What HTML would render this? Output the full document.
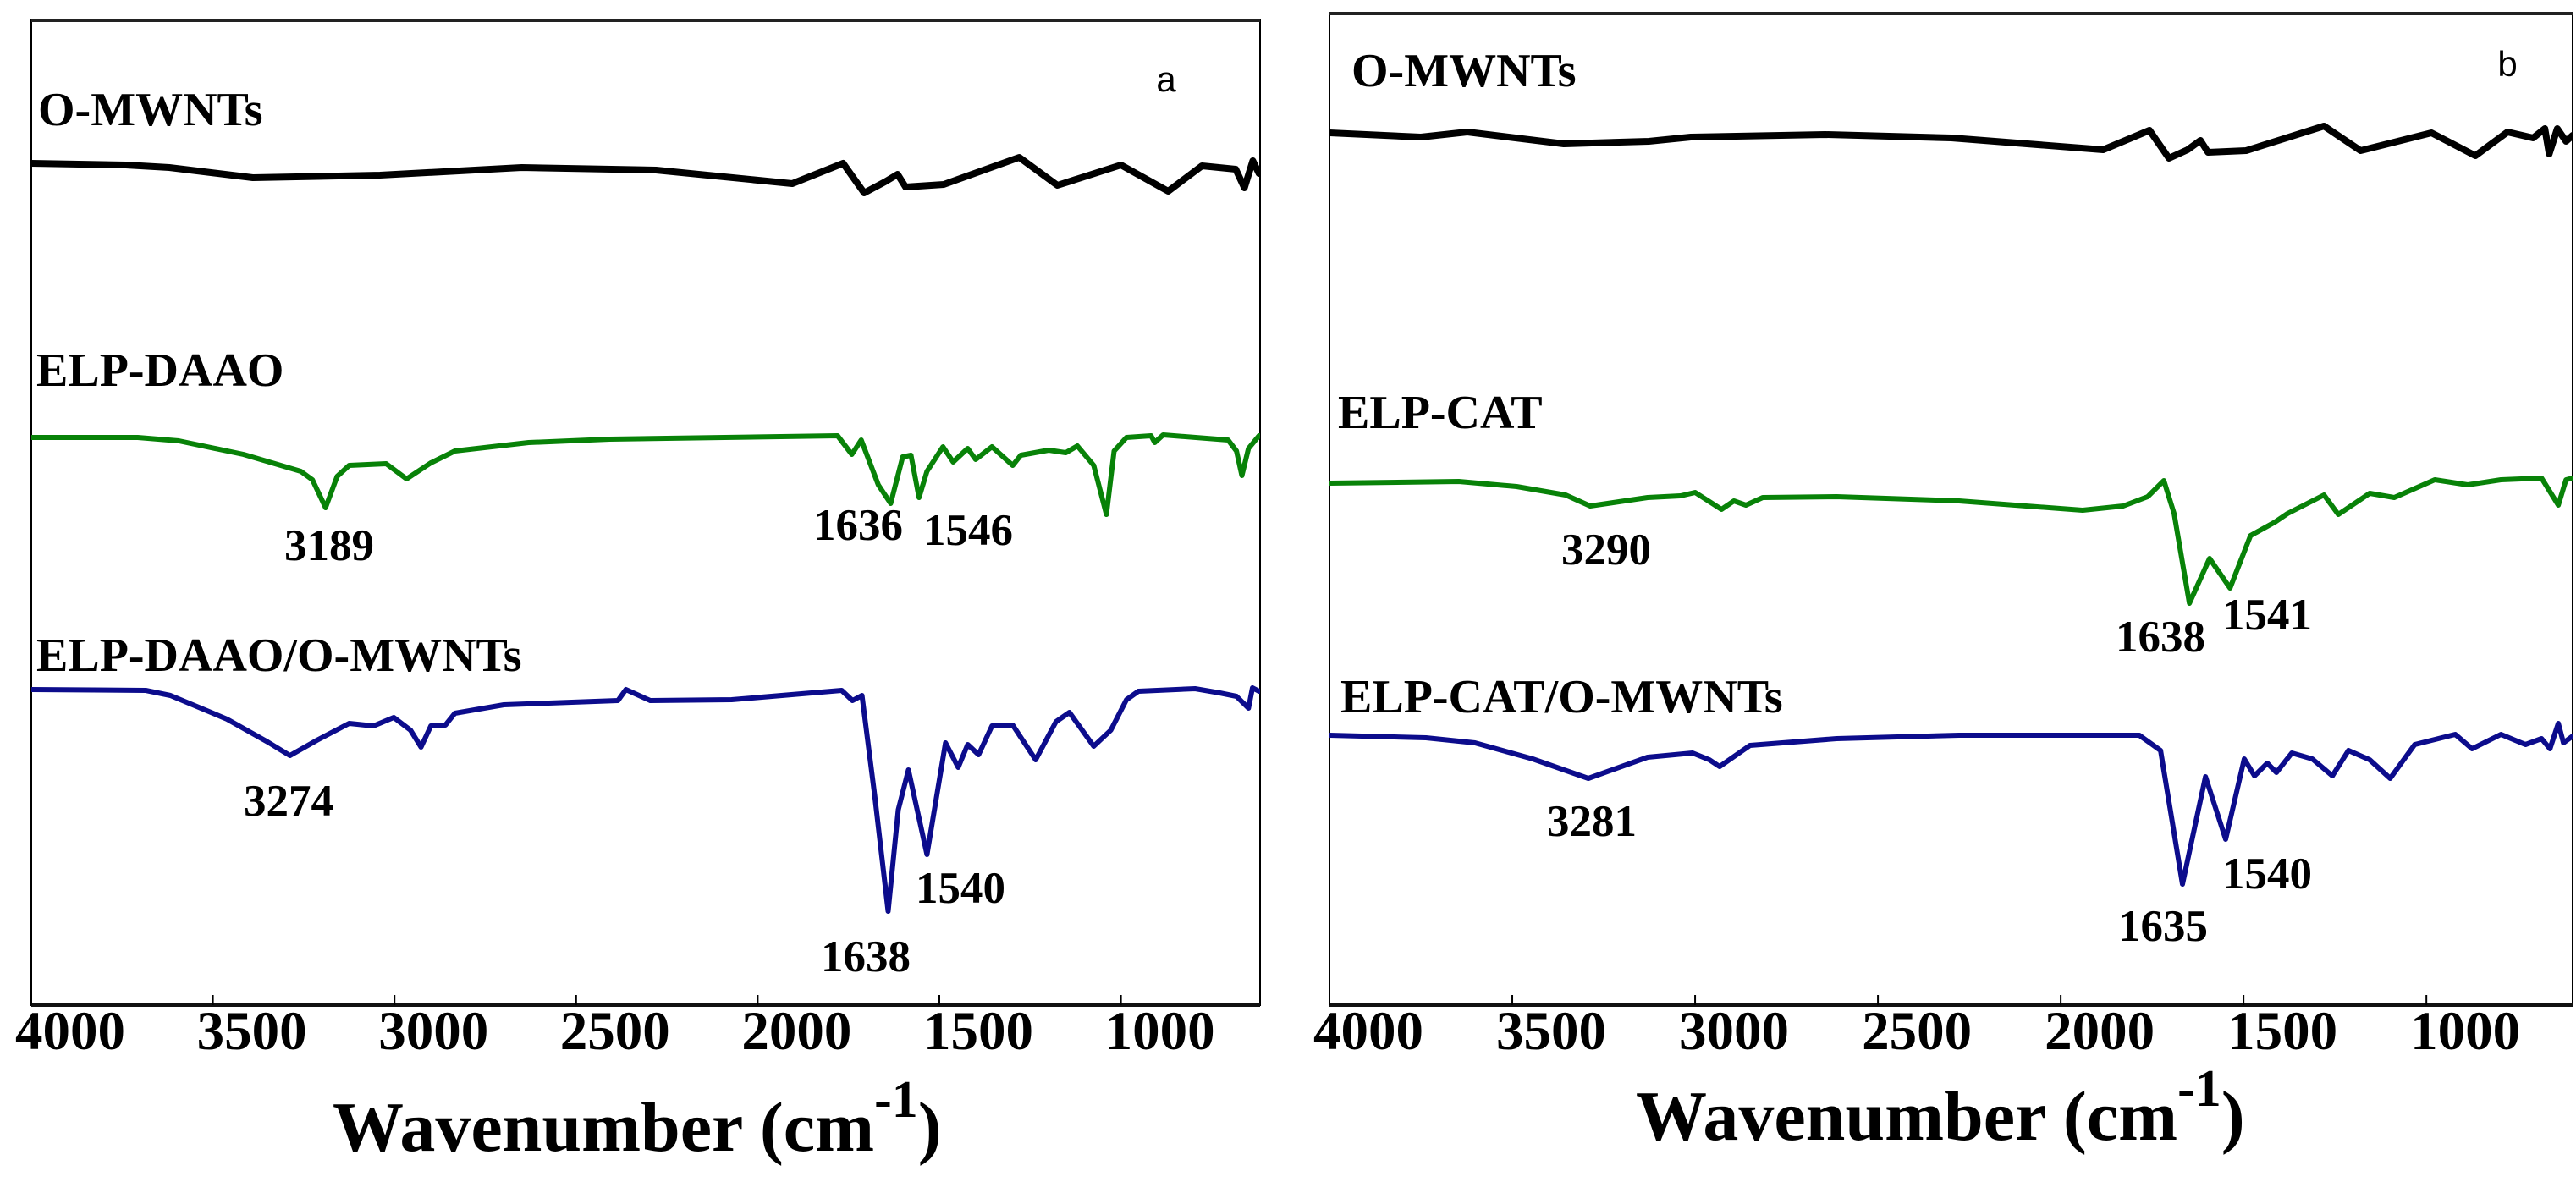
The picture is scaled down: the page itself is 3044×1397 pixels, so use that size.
<!DOCTYPE html>
<html><head><meta charset="utf-8"><style>
html,body{margin:0;padding:0;background:#fff;}
svg{display:block;}
text{font-family:"Liberation Serif",serif;font-weight:bold;fill:#000;}
</style></head><body>
<svg id="chart" width="3044" height="1397" viewBox="0 0 3044 1397" xmlns="http://www.w3.org/2000/svg">
<rect x="0" y="0" width="3044" height="1397" fill="#fff"/>
</svg>
<script>
// ---- data (wavenumber cm-1, intensity a.u.) ----
const ticks = [4000, 3500, 3000, 2500, 2000, 1500, 1000];
const tickLabels = ["4000", "3500", "3000", "2500", "2000", "1500", "1000"];

const aBlackWn = [4000,3740,3620,3390,3040,2650,2280,1905,1765,1707,1650,1615,1593,1488,1280,1175,1000,870,777,684,660,637,620];
const aBlackV  = [995,993,990,978,981,990,987,971,995,960,973,982,967,970,1002,969,993,962,992,988,966,998,983];

const aGreenWn = [4000,3707,3594,3416,3258,3226,3190,3158,3125,3023,2967,2900,2834,2631,2408,1780,1741,1715,1668,1634,1601,1578,1556,1534,1490,1462,1422,1400,1355,1298,1276,1199,1152,1120,1075,1040,1019,985,917,907,884,705,682,667,649,620];
const aGreenV  = [671,671,667,651,631,621,588,625,638,640,622,641,655,665,669,673,651,668,615,593,648,650,600,631,660,642,658,645,660,638,650,656,653,661,638,580,655,671,673,665,674,668,655,626,658,673];

const aBlueWn = [4000,3685,3617,3461,3349,3288,3214,3125,3058,3002,2956,2927,2900,2860,2834,2699,2385,2363,2296,2072,1769,1739,1713,1678,1641,1613,1585,1534,1483,1448,1422,1392,1355,1298,1235,1179,1142,1075,1028,985,952,796,728,682,649,638,620];
const aBlueV  = [373,372,366,338,311,295,313,333,330,340,325,305,330,331,345,355,360,373,360,361,372,360,366,248,111,231,278,178,310,281,308,296,330,331,290,335,346,306,325,361,371,374,369,365,351,375,371];

const bBlackWn = [4000,3750,3623,3359,3127,3012,2644,2299,1884,1757,1704,1653,1618,1597,1493,1280,1180,986,866,778,708,676,664,642,618,600];
const bBlackV  = [1031,1026,1032,1018,1021,1026,1029,1025,1011,1034,1001,1011,1022,1008,1010,1039,1010,1031,1004,1032,1025,1036,1006,1036,1021,1028];

const bGreenWn = [4000,3646,3488,3354,3287,3130,3040,3000,2928,2894,2861,2815,2613,2278,1940,1829,1762,1718,1690,1648,1593,1537,1481,1414,1380,1280,1241,1155,1088,977,887,796,685,639,618,600];
const bGreenV  = [617,619,613,603,590,600,602,606,586,596,591,600,601,596,585,590,601,620,581,475,528,493,555,571,581,603,580,605,600,621,615,621,623,591,621,623];

const bBlueWn = [4000,3736,3602,3444,3292,3130,3007,2961,2933,2850,2613,2278,1785,1727,1667,1604,1549,1498,1470,1435,1410,1368,1312,1257,1213,1155,1099,1032,921,875,796,729,685,662,639,625,600];
const bBlueV  = [319,316,310,291,268,293,298,290,282,307,315,319,319,301,143,270,196,291,271,286,275,298,291,271,301,290,268,308,320,303,320,308,315,303,333,310,318];

const NS = "http://www.w3.org/2000/svg";
const svg = document.getElementById('chart');
function mk(tag, attrs, parent){ const e=document.createElementNS(NS,tag); for(const k in attrs) e.setAttribute(k,attrs[k]); (parent||svg).appendChild(e); return e; }

function panel(p){
  const g = mk('g', {});
  
  
  const xS = w => p.left + (p.wmax - w) / (p.wmax - p.wmin) * (p.right - p.left);
  const yS = v => p.bottom - v;
  const cid = 'clip-' + p.id;
  const cp = mk('clipPath', {id: cid}, g);
  mk('rect', {x:p.left, y:p.top, width:p.right-p.left, height:p.bottom-p.top}, cp);
  const fr = mk('rect', {x:p.left, y:p.top, width:p.right-p.left, height:p.bottom-p.top, fill:'none', stroke:'#000', 'stroke-width':2}, g);
  
  
  const tl = mk('line', {x1:p.left, x2:p.right, y1:p.top, y2:p.top, stroke:'#222', 'stroke-width':4}, g);
  
  
  const ax = mk('line', {x1:p.left, x2:p.right, y1:p.bottom, y2:p.bottom, stroke:'#111', 'stroke-width':4}, g);
  
  
  ticks.forEach((t,i)=>{
    const x = xS(t);
    const tk = mk('line', {x1:x, x2:x, y1:p.bottom, y2:p.bottom-12, stroke:'#000', 'stroke-width':2}, g);
    
    
    const lb = mk('text', {x:x+46, y:1240, 'font-size':65, 'text-anchor':'middle'}, g);
    lb.textContent = tickLabels[i];
    
    
  });
  p.series.forEach(s=>{
    let d='';
    s.wn.forEach((w,i)=>{ d += (i?'L':'M') + xS(w).toFixed(1) + ',' + yS(s.v[i]).toFixed(1); });
    const path = mk('path', {d:d, fill:'none', stroke:s.color, 'stroke-width':s.w, 'stroke-linejoin':'round', 'stroke-linecap':'round', 'clip-path':'url(#'+cid+')'}, g);
    
    
  });
  p.labels.forEach(l=>{
    const t = mk('text', {x:l.x, y:l.y, 'font-size':l.fs, 'text-anchor':l.anchor||'start'}, g);
    if(l.sans){ t.setAttribute('style','font-family:"Liberation Sans",sans-serif;font-weight:normal'); }
    t.textContent = l.t;
    
    
  });
  const title = mk('text', {x:p.titleX, y:p.titleY, 'font-size':84}, g);
  
  
  title.appendChild(document.createTextNode('Wavenumber (cm'));
  const sup = mk('tspan', {dy:-40, 'font-size':62}, title);
  sup.textContent = '-1';
  const cl = mk('tspan', {dy:40}, title);
  cl.textContent = ')';
}

panel({id:'panel-a', left:37, right:1489, top:24, bottom:1188, wmax:4000, wmin:617, titleX:393, titleY:1360,
  series:[
    {name:'o-mwnts-spectrum-a', wn:aBlackWn, v:aBlackV, color:'#000', w:8},
    {name:'elp-daao-spectrum', wn:aGreenWn, v:aGreenV, color:'#088208', w:6},
    {name:'elp-daao-o-mwnts-spectrum', wn:aBlueWn, v:aBlueV, color:'#0c0c8c', w:6}],
  labels:[
    {t:'O-MWNTs', x:45, y:148, fs:56, name:'o-mwnts-label-a'},
    {t:'a', x:1378, y:108, fs:42, anchor:'middle', sans:true, name:'panel-a-letter'},
    {t:'ELP-DAAO', x:43, y:456, fs:56, name:'elp-daao-label'},
    {t:'ELP-DAAO/O-MWNTs', x:43, y:793, fs:56, name:'elp-daao-o-mwnts-label'},
    {t:'3189', x:389, y:662, fs:53, anchor:'middle', name:'peak-3189-label'},
    {t:'1636', x:1014, y:638, fs:53, anchor:'middle', name:'peak-1636-label'},
    {t:'1546', x:1144, y:644, fs:53, anchor:'middle', name:'peak-1546-label'},
    {t:'3274', x:341, y:964, fs:53, anchor:'middle', name:'peak-3274-label'},
    {t:'1540', x:1135, y:1067, fs:53, anchor:'middle', name:'peak-1540-label-a'},
    {t:'1638', x:1023, y:1148, fs:53, anchor:'middle', name:'peak-1638-label-a'}]
});

panel({id:'panel-b', left:1571, right:3040, top:16, bottom:1188, wmax:4000, wmin:600, titleX:1933, titleY:1347,
  series:[
    {name:'o-mwnts-spectrum-b', wn:bBlackWn, v:bBlackV, color:'#000', w:8},
    {name:'elp-cat-spectrum', wn:bGreenWn, v:bGreenV, color:'#088208', w:6},
    {name:'elp-cat-o-mwnts-spectrum', wn:bBlueWn, v:bBlueV, color:'#0c0c8c', w:6}],
  labels:[
    {t:'O-MWNTs', x:1597, y:102, fs:56, name:'o-mwnts-label-b'},
    {t:'b', x:2963, y:90, fs:42, anchor:'middle', sans:true, name:'panel-b-letter'},
    {t:'ELP-CAT', x:1581, y:506, fs:56, name:'elp-cat-label'},
    {t:'ELP-CAT/O-MWNTs', x:1584, y:842, fs:56, name:'elp-cat-o-mwnts-label'},
    {t:'3290', x:1898, y:667, fs:53, anchor:'middle', name:'peak-3290-label'},
    {t:'1638', x:2553, y:770, fs:53, anchor:'middle', name:'peak-1638-label-b'},
    {t:'1541', x:2679, y:744, fs:53, anchor:'middle', name:'peak-1541-label'},
    {t:'3281', x:1881, y:988, fs:53, anchor:'middle', name:'peak-3281-label'},
    {t:'1540', x:2679, y:1050, fs:53, anchor:'middle', name:'peak-1540-label-b'},
    {t:'1635', x:2556, y:1112, fs:53, anchor:'middle', name:'peak-1635-label'}]
});
</script>
</body></html>
